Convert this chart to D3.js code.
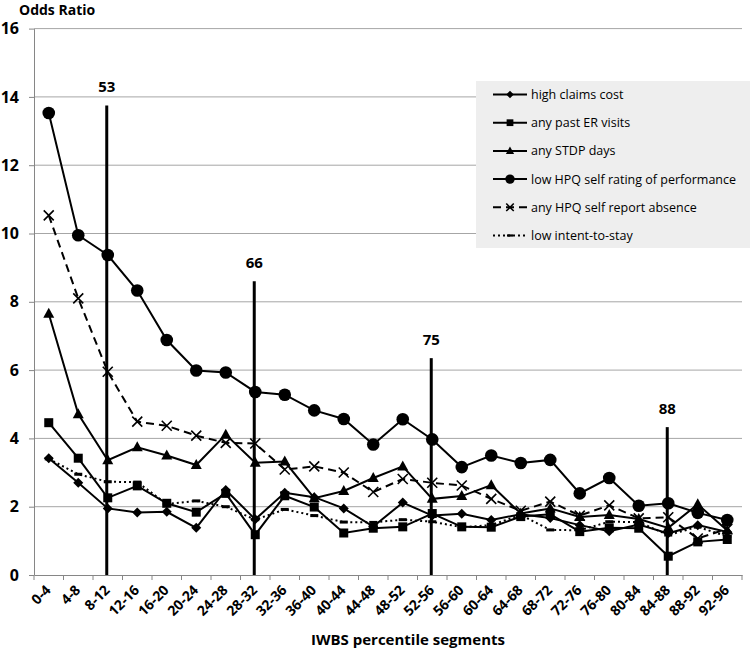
<!DOCTYPE html>
<html><head><meta charset="utf-8">
<script src="https://cdn.jsdelivr.net/npm/d3@7"></script>
<style>body{margin:0;background:#fff}svg{display:block}</style>
</head><body><svg id="c" width="750" height="651"></svg>
<script>
const categories=["0-4","4-8","8-12","12-16","16-20","20-24","24-28","28-32","32-36","36-40","40-44","44-48","48-52","52-56","56-60","60-64","64-68","68-72","72-76","76-80","80-84","84-88","88-92","92-96"];
const highClaims=[3.42,2.70,1.95,1.83,1.85,1.38,2.49,1.63,2.41,2.28,1.95,1.42,2.12,1.74,1.79,1.61,1.78,1.67,1.46,1.28,1.48,1.22,1.46,1.26];
const erVisits=[4.46,3.42,2.26,2.61,2.10,1.84,2.39,1.18,2.32,1.99,1.23,1.37,1.41,1.80,1.41,1.40,1.71,1.78,1.27,1.38,1.37,0.55,0.97,1.04];
const stdpDays=[7.65,4.71,3.36,3.74,3.50,3.22,4.11,3.29,3.32,2.25,2.46,2.84,3.18,2.23,2.31,2.63,1.80,1.95,1.70,1.76,1.64,1.38,2.07,1.30];
const lowHPQ=[13.53,9.95,9.37,8.33,6.88,5.99,5.93,5.36,5.28,4.82,4.57,3.82,4.56,3.97,3.16,3.50,3.28,3.37,2.39,2.84,2.03,2.10,1.82,1.61];
const hpqAbsence=[10.53,8.10,5.95,4.49,4.37,4.08,3.87,3.85,3.09,3.18,3.00,2.43,2.81,2.70,2.62,2.23,1.88,2.15,1.74,2.04,1.66,1.69,1.07,1.35];
const intentStay=[3.40,2.95,2.73,2.72,2.08,2.17,2.00,1.62,1.92,1.74,1.55,1.54,1.62,1.56,1.40,1.46,1.76,1.32,1.31,1.56,1.55,1.17,1.41,1.13];
const yTickValues=[0,2,4,6,8,10,12,14,16];
const refCats=["8-12","28-32","52-56","84-88"];
const refLabels=["53","66","75","88"];
const refTops=[13.75,8.6,6.35,4.33];
const seriesNames=["high claims cost","any past ER visits","any STDP days","low HPQ self rating of performance","any HPQ self report absence","low intent-to-stay"];

const series=[
 {name:seriesNames[0],values:highClaims,marker:"diamond",dash:null},
 {name:seriesNames[1],values:erVisits,marker:"square",dash:null},
 {name:seriesNames[2],values:stdpDays,marker:"triangle",dash:null},
 {name:seriesNames[3],values:lowHPQ,marker:"circle",dash:null},
 {name:seriesNames[4],values:hpqAbsence,marker:"x",dash:"8,5"},
 {name:seriesNames[5],values:intentStay,marker:"dash",dash:"2,3"}
];

const svg=d3.select("#c");
const FONT="'Open Sans', 'DejaVu Sans', sans-serif";
const x=d3.scaleBand().domain(categories).range([34,742]).paddingInner(0).paddingOuter(0);
const y=d3.scaleLinear().domain([0,16]).range([575,28.6]);
const cx=c=>x(c)+x.bandwidth()/2;

// gridlines
svg.append("g").selectAll("line").data(yTickValues.filter(v=>v>0)).join("line")
 .attr("x1",34).attr("x2",742).attr("y1",d=>y(d)).attr("y2",d=>y(d))
 .attr("stroke","#a6a6a6").attr("stroke-width",1);

// y axis
const ya=svg.append("g").attr("transform","translate(34,0)")
 .call(d3.axisLeft(y).tickValues(yTickValues).tickSize(5).tickSizeOuter(0).tickPadding(10).tickFormat(d3.format("d")));
ya.select(".domain").attr("stroke","#868686");
ya.selectAll(".tick line").attr("stroke","#868686");
ya.selectAll("text").attr("font-family",FONT).attr("font-size",16).attr("font-weight","bold").attr("fill","#000");

// x axis
const xa=svg.append("g").attr("transform","translate(0,575)")
 .call(d3.axisBottom(x).tickSize(0).tickSizeOuter(0));
xa.select(".domain").attr("stroke","#868686");
xa.selectAll("text").attr("font-family",FONT).attr("font-size",14).attr("font-weight","bold").attr("fill","#000")
 .attr("text-anchor","end").attr("y",0).attr("dy","0").attr("transform","translate(3,16) rotate(-45)");
const bounds=categories.map(c=>x(c)).concat([x.range()[1]]);
svg.append("g").selectAll("line").data(bounds).join("line")
 .attr("x1",d=>d).attr("x2",d=>d).attr("y1",575).attr("y2",580).attr("stroke","#868686");

// titles
svg.append("text").attr("x",19).attr("y",15).text("Odds Ratio")
 .attr("font-family",FONT).attr("font-size",14).attr("font-weight","bold");
svg.append("text").attr("x",408).attr("y",645).attr("text-anchor","middle").text("IWBS percentile segments")
 .attr("font-family",FONT).attr("font-size",15).attr("font-weight","bold");

// marker drawing
function drawMarker(g,type,s){
 if(type==="diamond"){g.append("path").attr("d",`M0,${-5*s}L${5*s},0L0,${5*s}L${-5*s},0Z`).attr("fill","#000");}
 else if(type==="square"){g.append("rect").attr("x",-4.5*s).attr("y",-4.5*s).attr("width",9*s).attr("height",9*s).attr("fill","#000");}
 else if(type==="triangle"){g.append("path").attr("d",`M0,${-6*s}L${5.5*s},${4*s}L${-5.5*s},${4*s}Z`).attr("fill","#000");}
 else if(type==="circle"){g.append("circle").attr("r",6.3*s).attr("fill","#000");}
 else if(type==="x"){g.append("path").attr("d",`M${-5*s},${-5*s}L${5*s},${5*s}M${5*s},${-5*s}L${-5*s},${5*s}`).attr("stroke","#000").attr("stroke-width",1.6).attr("fill","none");}
 else if(type==="dash"){g.append("rect").attr("x",-4*s).attr("y",-1.5*s).attr("width",8*s).attr("height",3*s).attr("fill","#000");}
}

const line=d3.line().x((d,i)=>cx(categories[i])).y(d=>y(d));
series.forEach(s=>{
 svg.append("path").datum(s.values).attr("d",line).attr("fill","none").attr("stroke","#000")
  .attr("stroke-width",2).attr("stroke-dasharray",s.dash);
});
series.forEach(s=>{
 const g=svg.append("g");
 s.values.forEach((v,i)=>{
  const m=g.append("g").attr("transform",`translate(${cx(categories[i])},${y(v)})`);
  drawMarker(m,s.marker,1);
 });
});

// reference lines
refCats.forEach((c,i)=>{
 svg.append("line").attr("x1",cx(c)-1).attr("x2",cx(c)-1).attr("y1",y(0)).attr("y2",y(refTops[i]))
  .attr("stroke","#000").attr("stroke-width",3);
 svg.append("text").attr("x",cx(c)-1).attr("y",y(refTops[i])-13).attr("text-anchor","middle")
  .text(refLabels[i]).attr("font-family",FONT).attr("font-size",15).attr("font-weight","bold");
});

// legend
const lg=svg.append("g");
lg.append("rect").attr("x",476).attr("y",81).attr("width",274).attr("height",167).attr("fill","#eeeeee");
series.forEach((s,i)=>{
 const yy=94.5+i*28.2;
 lg.append("line").attr("x1",493).attr("x2",527).attr("y1",yy).attr("y2",yy).attr("stroke","#000")
  .attr("stroke-width",2).attr("stroke-dasharray",s.dash);
 const m=lg.append("g").attr("transform",`translate(510,${yy})`);
 drawMarker(m,s.marker,0.75);
 lg.append("text").attr("x",531).attr("y",yy+4.5).text(s.name)
  .attr("font-family",FONT).attr("font-size",12.5).attr("fill","#000");
});
</script></body></html>
